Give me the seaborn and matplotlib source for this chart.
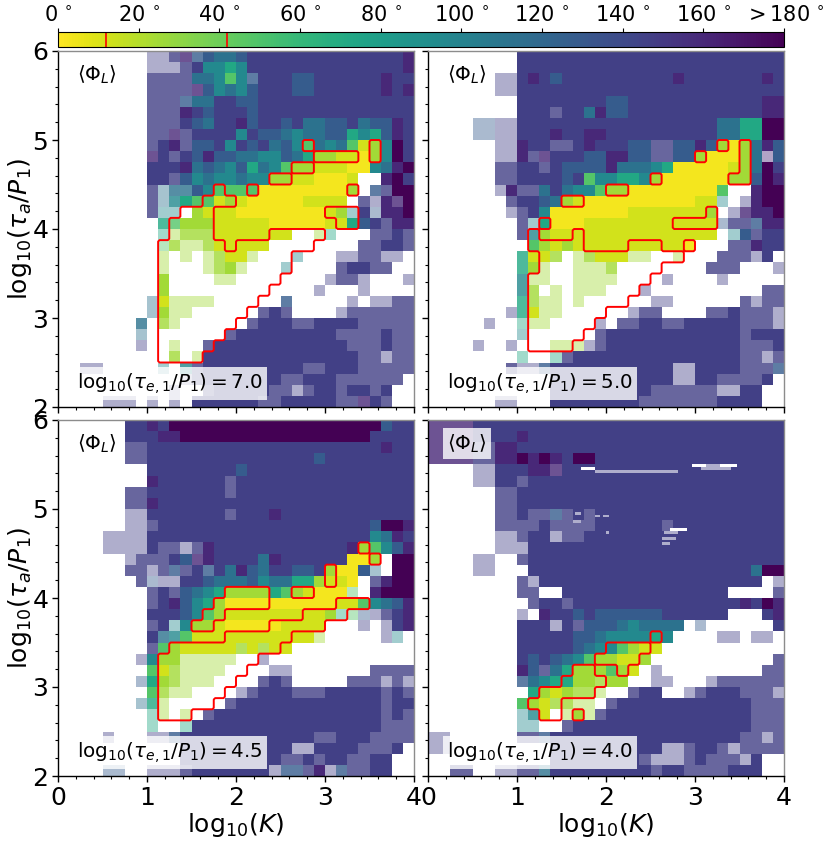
import numpy as np
import seaborn as sns
import matplotlib.pyplot as plt
from matplotlib.cm import ScalarMappable
from matplotlib.colors import Normalize
from matplotlib.ticker import FixedLocator

# mean libration angle per cell, 32 x 32 cells of 1/8 dex, top row = log tau 6
# digits/x are opaque, A-K half faded, a-k strongly faded, '.' is no data
PHI_CODES = "0123456789x"
PHI_VALUES = [3, 12, 25, 48, 72, 95, 112, 128, 146, 160, 180]

CELLS_A = [
    "........iiIJH7667888888888888889",
    "........iiiI85545888888888888889",
    "........IIII66535H88877888888988",
    "........IIIIJ7565788877888888989",
    "........IIIH66887788888888888888",
    "........III987888788888888888888",
    "........III876889788786677867798",
    "........IIJI88885877656677454798",
    "........I89I778587867536563125x8",
    "........J8I8797766557642211025x8",
    "........88896765746532211100569x",
    "........88I7565565522110001..9x8",
    "........IgGG753333000000002.HIxx",
    "........IgF433121000001111.Ii9Jx",
    "........Iff.21110000000012f8h99x",
    ".........ED222111110000011478I99",
    ".........ecCCC1111111..ce...II8I",
    ".........dCccC11111........II88I",
    ".........c.c.cC11c...f...iiIIii.",
    ".........c...cC2c...f....I88II..",
    ".........2....cc........iIIi...i",
    ".........2.............i...i....",
    "........g1cccc......H.....i.iiII",
    "........g2cc......I8I....iIIIIII",
    ".......G.Cc......I888II8888IIIII",
    ".......g.......I888888888IIII8II",
    ".......i..c..I888888888888III8II",
    "..........C.c88888888888888IIiII",
    "..ii.....f.FI888888888II888IIIII",
    "...........iI8888888II888IIIIII.",
    "..........i..I88888IIiI88I88I8..",
    "....iii.i.i.888888II88888IIJ8I..",
]

CELLS_B = [
    "........888888888888888888888888",
    "........888888888888888888888888",
    "......ii898788888888889888888898",
    "......ii888888888888888888888888",
    "........888888887788888888888899",
    "........888I88697788888888888899",
    "....hhii8888888888888888886644xx",
    "....hhii8889889988888888886644xx",
    "......ii988II8988877II7797202697",
    "......ii9IJ888779977II77200026j7",
    "......II88I8777796665400000126x8",
    "......II8888783554452000000227x9",
    "......i9II68655322000000003..9xx",
    ".......I887621000000000011f.i9xx",
    ".......iI85000000011111112.iJ99x",
    "........If4000111111111111hIIH99",
    "........IF2111111111111111.f7I88",
    ".........321211111111110...II988",
    "........E11C.cC111cc..c...IIIi8.",
    "........E2c..cccC........III...i",
    "........Fcc..cccc....i....i.....",
    "........FC.c.ccc...i..........II",
    "........ECcc.c......ii......IiII",
    ".......iE1cc......iII....II8IIIi",
    ".....i..ecc....i.II88II88888IIIi",
    "........f......I888888888888I888",
    "....i..i...ccciI888888888888III8",
    "........e..eI888888888888888IIiI",
    ".......IiiH88888888888ii8888IIIH",
    "...........88888888888ii88IIII8.",
    "...........888888888IIIIIIii88..",
    "......ii...88888888IIIIIII8888..",
]

CELLS_C = [
    "......8898xxxxxxxxxxxxxxxxxxx788",
    "......88899xxxxxxxxxxxxxxxxx8888",
    "......II888888888888888888888988",
    "......II888888888888888788888888",
    "........888888887888888888888888",
    "........9888888I8888888888888888",
    "......II8888888I8888888888888888",
    "......II988888888888888888888888",
    "......ii8888888I8889888888888888",
    "......iiI88888888888888888887xx9",
    "....iiii888888888888888888885698",
    "....iiii8IIiI9888888888888923579",
    "......iIII87J9888869888888002.xx",
    "......IIiIHI8H86976887782007g.xx",
    ".......Ihii8876667566442110.I9xx",
    "........I8I765422224321000d.9xxx",
    "........I89754200000000001135679",
    "........88875321111111112edhiI89",
    "........I8f5221000001111...i.i89",
    "........8GF311111111111c.....if.",
    "........I3211111C1C11...........",
    ".......i522ccccc..i.............",
    "........31Ccccc....ii.......IIII",
    ".......h42Cccc....I8I.....IIIiIi",
    "........3Ccc....iI888III88888I8I",
    ".......gEc.....I8888888888888I88",
    "........ec.c.I888888888888888I8I",
    "........e..e88888888888888888III",
    "....i...iiH888888888888II888IIII",
    "...........8888888888ii8888III8.",
    "...........888888888II8I88II88..",
    "....hh..iiiI8888888iHHI9iHII88..",
]

CELLS_D = [
    "JJJJ8888888888888888888888888888",
    "JJJJ8888988888888888888888888888",
    "JJJJII99888888888888888888888888",
    "JJJJII99x9x98xx88888888888888888",
    "....ii88899J88888888888888888888",
    "....ii88I88888888888888888888888",
    "......II888888888888888888888888",
    "......II888888888888888888888888",
    "......II8IIHI8I88888888888888888",
    "......IIII8IIII888888I8888888888",
    "......iiI88iII888888888888888888",
    "......iii88888888888888888888888",
    "....ii..I88888888888888888888888",
    "....ii...888888888888888888886xx",
    "........Ii88888888888888888888.i",
    "........II..888888888888888....I",
    ".........I88I88888888888888898x9",
    "........i.98878777777888888...89",
    "........888i8I777656666.h......8",
    "........88888776555545....ii.ii.",
    "........8888876553211...........",
    "........878765322112...........I",
    "........97I64222321.i.........II",
    "........H654422C22..ii...iIIIIII",
    ".........4212CCc..I88..iI888IIIi",
    "........321CCcc.I888888888888III",
    "........fF1.c2cI8888888888888III",
    "........ff..I8888888888888888III",
    "ii......IIH88888888888888888IIiI",
    "ii.........8888888888iiI88IiIIII",
    "...........88888888IiiiI8IIIi8..",
    "..II..iiIIG888888888I88IIII888..",
]

# thin streaks of the last panel on its 1/32 dex mesh: (row, first, last)
GAPS_D = [(17, 55, 59), (16, 95, 99), (16, 105, 110), (39, 87, 92)]
PALE_D = [(18, 60, 89), (16, 100, 104), (17, 98, 108), (40, 85, 89), (33, 53, 54),
          (36, 52, 54), (34, 60, 61), (34, 63, 64), (40, 45, 46), (43, 46, 47),
          (40, 64, 64), (42, 84, 88), (44, 84, 86)]

# cells inside the red contour: (row, first column, last column)
RED_A = [(8, 22, 22), (8, 28, 28), (9, 23, 26), (9, 28, 28), (10, 21, 22),
         (11, 19, 20), (12, 14, 14), (12, 17, 17), (12, 26, 26), (13, 13, 15),
         (14, 11, 13), (14, 24, 26), (15, 10, 13), (15, 25, 26), (16, 10, 13),
         (16, 19, 23), (17, 9, 14), (17, 16, 22), (18, 9, 20), (19, 9, 20),
         (20, 9, 19), (21, 9, 18), (22, 9, 17), (23, 9, 16), (24, 9, 15),
         (25, 9, 14), (26, 9, 13), (27, 9, 12)]
RED_B = [(8, 26, 26), (8, 28, 28), (9, 24, 24), (9, 28, 28), (10, 28, 28),
         (11, 20, 20), (11, 27, 28), (12, 16, 17), (13, 12, 13), (14, 25, 25),
         (15, 22, 25), (15, 10, 10), (16, 13, 13), (16, 9, 9), (17, 9, 9),
         (17, 10, 13), (17, 18, 20), (17, 23, 23), (18, 10, 22), (19, 10, 20),
         (20, 9, 19), (21, 9, 18), (22, 9, 17), (23, 9, 15), (24, 9, 14),
         (25, 9, 13), (26, 9, 12)]
RED_C = [(11, 27, 27), (12, 28, 28), (13, 24, 24), (14, 24, 24), (15, 22, 22),
         (15, 15, 18), (15, 21, 21), (16, 14, 18), (16, 25, 27), (17, 13, 14),
         (17, 22, 25), (18, 12, 13), (18, 19, 23), (19, 15, 20), (20, 10, 19),
         (21, 9, 17), (22, 9, 16), (23, 9, 15), (24, 9, 14), (25, 9, 13),
         (26, 9, 11)]
RED_D = [(19, 20, 20), (20, 16, 19), (21, 15, 18), (22, 13, 14), (22, 17, 17),
         (23, 12, 15), (24, 10, 14), (25, 9, 11), (26, 10, 11), (26, 13, 13)]

PANEL_TAU = ["7.0", "5.0", "4.5", "4.0"]
K_TICKS = [0, 1, 2, 3, 4]
TAU_TICKS = [2, 3, 4, 5, 6]
CBAR_TICKS = [0, 20, 40, 60, 80, 100, 120, 140, 160, 180]
CBAR_LABELS = [r"$0\,^\circ$", r"$20\,^\circ$", r"$40\,^\circ$", r"$60\,^\circ$",
               r"$80\,^\circ$", r"$100\,^\circ$", r"$120\,^\circ$", r"$140\,^\circ$",
               r"$160\,^\circ$", r"$>180\,^\circ$"]
CONTOUR_LEVELS = [12, 42]
SUB = 4  # mesh cells per 1/8 dex cell


def decode(rows):
    phi = np.full((32, 32), np.nan)
    fade = np.zeros((32, 32), dtype=int)
    for i, row in enumerate(rows):
        for j, c in enumerate(row):
            if c == ".":
                continue
            if c in PHI_CODES:
                phi[i, j] = PHI_VALUES[PHI_CODES.index(c)]
            else:
                phi[i, j] = PHI_VALUES[ord(c.lower()) - ord("a")]
                fade[i, j] = 1 if c.isupper() else 2
    return phi, fade


def red_mask(spans):
    m = np.zeros((32, 32))
    for row, first, last in spans:
        m[row, first:last + 1] = 1
    return m


fig = plt.figure(figsize=(8.30, 8.44), dpi=100)
W, H = 830.0, 844.0
lefts = [58, 428, 58, 428]
tops = [51, 51, 420, 420]
size = 356

panels = [(CELLS_A, RED_A, [], []), (CELLS_B, RED_B, [], []), (CELLS_C, RED_C, [], []),
          (CELLS_D, RED_D, GAPS_D, PALE_D)]
for n, (cells, red, gaps, pale) in enumerate(panels):
    ax = fig.add_axes([lefts[n] / W, 1 - (tops[n] + size) / H, size / W, size / H])
    phi, fade = decode(cells)
    phi = np.kron(phi, np.ones((SUB, SUB)))
    fade = np.kron(fade, np.ones((SUB, SUB), dtype=int))
    for row, first, last in gaps:
        phi[row, first:last + 1] = np.nan
    for row, first, last in pale:
        fade[row, first:last + 1] = 2
    for level, a in enumerate([1.0, 0.8, 0.42]):
        sns.heatmap(phi, mask=(fade != level) | np.isnan(phi), cmap="viridis_r", vmin=0, vmax=180,
                    alpha=a, cbar=False, xticklabels=False, yticklabels=False, ax=ax)

    # red outline, upsampled so that the steps stay square
    fine = np.kron(red_mask(red), np.ones((SUB, SUB)))
    grid = np.arange(32 * SUB) + 0.5
    ax.contour(grid, grid, fine, levels=[0.5], colors="red", linewidths=1.4)

    end = 32 * SUB
    ax.set_xlim(0, end)
    ax.set_ylim(end, 0)
    for side in ax.spines:
        ax.spines[side].set_visible(True)
        ax.spines[side].set_linewidth(1.0)
    ax.spines["top"].set_color("0.55")
    ax.spines["right"].set_color("0.55")

    ax.set_xticks([k * 8 * SUB for k in K_TICKS])
    ax.set_yticks([(6 - t) * 8 * SUB for t in TAU_TICKS])
    minor = np.arange(0, 20.5) * 1.6 * SUB
    ax.xaxis.set_minor_locator(FixedLocator(minor))
    ax.yaxis.set_minor_locator(FixedLocator(minor))
    ax.tick_params(which="major", length=4, width=1, labelsize=18, pad=3)
    ax.tick_params(which="minor", length=2, width=0.8)
    if n >= 2:
        ax.set_xticklabels([str(k) for k in K_TICKS], rotation=0)
        ax.set_xlabel(r"$\mathrm{log}_{10}(K)$", fontsize=18, labelpad=1)
    else:
        ax.set_xticklabels([])
    if n % 2 == 0:
        ax.set_yticklabels([str(t) for t in TAU_TICKS], rotation=0)
        ax.set_ylabel(r"$\mathrm{log}_{10}(\tau_a/P_1)$", fontsize=18)
        ax.yaxis.set_label_coords(-0.068, 0.5)
    else:
        ax.set_yticklabels([])

    box = dict(facecolor="white", alpha=0.8, edgecolor="none", pad=3)
    ax.text(1.7 * SUB, 2.1 * SUB, r"$\langle \Phi_L \rangle$", fontsize=14.3, va="center", bbox=box)
    ax.text(1.7 * SUB, 29.9 * SUB, r"$\mathrm{log}_{10}(\tau_{e,1}/P_1) = %s$" % PANEL_TAU[n],
            fontsize=14.3, va="center", bbox=box)

# colour bar on top
cax = fig.add_axes([58 / W, 1 - 47 / H, 726 / W, 15 / H])
sm = ScalarMappable(norm=Normalize(0, 180), cmap="viridis_r")
cb = fig.colorbar(sm, cax=cax, orientation="horizontal", ticks=CBAR_TICKS)
cb.ax.xaxis.set_ticks_position("top")
cb.ax.set_xticklabels(CBAR_LABELS, fontsize=15)
cb.ax.tick_params(length=3, width=0.8, pad=2)
for v in CONTOUR_LEVELS:
    cb.ax.axvline(v, color="red", lw=1.2)

fig.savefig("out.png", dpi=100)
